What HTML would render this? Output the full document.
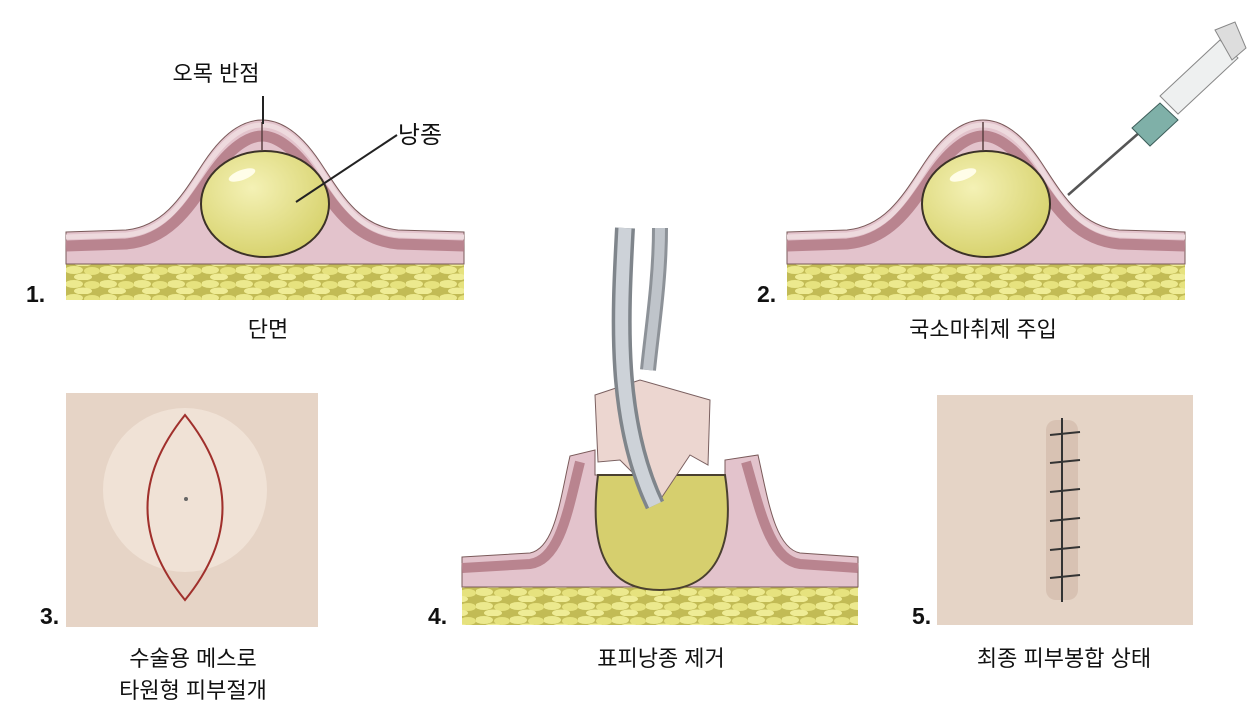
<!DOCTYPE html>
<html><head><meta charset="utf-8"><style>
body{margin:0;background:#fff;width:1256px;height:722px;overflow:hidden;}
svg{display:block}
text{font-family:"Liberation Sans","Noto Sans CJK KR",sans-serif;fill:#111}
</style></head><body>
<svg width="1256" height="722" viewBox="0 0 1256 722">
<defs>
<pattern id="fat" width="34" height="14" patternUnits="userSpaceOnUse">
<rect width="34" height="14" fill="#c2bb55"/>
<ellipse cx="8" cy="4" rx="9" ry="4" fill="#ece98e"/>
<ellipse cx="26" cy="5" rx="8" ry="4" fill="#e6e27e"/>
<ellipse cx="17" cy="11" rx="9" ry="3.5" fill="#efec96"/>
</pattern>
<radialGradient id="cyst" cx="0.4" cy="0.35" r="0.7">
<stop offset="0" stop-color="#f4f1b5"/><stop offset="1" stop-color="#d6d16a"/>
</radialGradient>
<g id="sec">
<rect x="0" y="262" width="398" height="38" fill="url(#fat)"/>
<path d="M0 232 L60 230 C100 226 118 192 138 162 C158 132 178 120 196 120 C214 120 234 132 254 162 C274 192 292 226 332 230 L398 232 L398 264 L0 264 Z" fill="#e3c3cc" stroke="#7a5a5a" stroke-width="1"/>
<path d="M0 246 L60 244 C104 240 124 206 146 174 C164 148 182 136 196 136 C210 136 228 148 246 174 C268 206 288 240 332 244 L398 246" fill="none" stroke="#b9848f" stroke-width="11"/>
<path d="M0 237 L60 235 C102 231 120 197 140 166 C160 137 179 125 196 125 C213 125 232 137 252 166 C272 197 290 231 332 235 L398 237" fill="none" stroke="#eedade" stroke-width="5"/>
<line x1="196" y1="122" x2="196" y2="150" stroke="#5a4040" stroke-width="1.5"/>
<ellipse cx="199" cy="204" rx="64" ry="53" fill="url(#cyst)" stroke="#3c3228" stroke-width="2"/>
<ellipse cx="176" cy="175" rx="14" ry="5" fill="#fffde8" transform="rotate(-20 176 175)"/>
</g>
</defs>
<use href="#sec" x="66"/>
<use href="#sec" x="787"/>
<line x1="263" y1="96" x2="263" y2="124" stroke="#222" stroke-width="2"/>
<line x1="296" y1="202" x2="397" y2="135" stroke="#222" stroke-width="2"/>
<!-- syringe -->
<line x1="1068" y1="195" x2="1140" y2="132" stroke="#555" stroke-width="2.5"/>
<path d="M1132 128 L1160 103 L1178 120 L1150 146 Z" fill="#7fb0a8" stroke="#3d5e5a"/>
<path d="M1160 96 L1220 40 L1238 58 L1178 114 Z" fill="#eef0f0" stroke="#888"/>
<path d="M1215 30 L1235 22 L1246 48 L1232 60 Z" fill="#ddd" stroke="#888"/>
<!-- panel 3 -->
<rect x="66" y="393" width="252" height="234" fill="#e6d4c6"/>
<circle cx="185" cy="490" r="82" fill="#f0e2d6"/>
<path d="M185 415 Q110 508 185 600 Q260 508 185 415 Z" fill="none" stroke="#a0302c" stroke-width="2"/>
<circle cx="186" cy="499" r="2" fill="#666"/>
<!-- panel 4 -->
<rect x="462" y="585" width="396" height="40" fill="url(#fat)"/>
<path d="M462 557 L530 553 C555 548 560 500 570 456 L595 450 L595 475 L725 475 L725 460 L758 455 C768 500 775 548 800 553 L858 557 L858 587 L462 587 Z" fill="#e3c3cc" stroke="#7a5a5a"/>
<path d="M462 568 L530 564 C560 560 568 510 580 462 M746 462 C760 510 770 560 800 564 L858 568" fill="none" stroke="#b9848f" stroke-width="10"/>
<path d="M598 475 C590 540 600 590 660 590 C720 590 735 540 725 475 Z" fill="#d6cf6e" stroke="#4a4030" stroke-width="2"/>
<path d="M595 395 L640 380 L710 400 L708 465 L690 455 L660 500 L620 460 L598 462 Z" fill="#ecd6d0" stroke="#7a6060"/>
<path d="M660 228 C660 280 652 330 648 370" fill="none" stroke="#8d9298" stroke-width="16"/>
<path d="M660 228 C660 280 652 330 648 370" fill="none" stroke="#bfc4ca" stroke-width="10"/>
<path d="M625 228 C620 320 615 420 655 505" fill="none" stroke="#7f858b" stroke-width="20"/>
<path d="M625 228 C620 320 615 420 655 505" fill="none" stroke="#cdd2d8" stroke-width="13"/>
<!-- panel 5 -->
<rect x="937" y="395" width="256" height="230" fill="#e5d4c6"/>
<rect x="1046" y="420" width="32" height="180" rx="10" fill="#d8c2b3"/>
<line x1="1062" y1="418" x2="1062" y2="602" stroke="#333" stroke-width="2"/>
<g stroke="#333" stroke-width="2">
<line x1="1050" y1="435" x2="1080" y2="432"/><line x1="1050" y1="463" x2="1080" y2="460"/>
<line x1="1050" y1="492" x2="1080" y2="489"/><line x1="1050" y1="521" x2="1080" y2="518"/>
<line x1="1050" y1="550" x2="1080" y2="547"/><line x1="1050" y1="578" x2="1080" y2="575"/>
</g>
<!-- labels -->
<g font-size="23" font-weight="bold"><text x="26" y="302">1.</text><text x="757" y="302">2.</text>
<text x="40" y="624">3.</text><text x="428" y="624">4.</text><text x="912" y="624">5.</text></g>
<g font-size="22" text-anchor="middle">
<text x="216" y="81">오목 반점</text>
<text x="420" y="143" font-size="24">낭종</text>
<text x="268" y="337">단면</text>
<text x="983" y="337">국소마취제 주입</text>
<text x="193" y="666">수술용 메스로</text>
<text x="193" y="698">타원형 피부절개</text>
<text x="661" y="666">표피낭종 제거</text>
<text x="1064" y="666">최종 피부봉합 상태</text>
</g>
</svg>
</body></html>
